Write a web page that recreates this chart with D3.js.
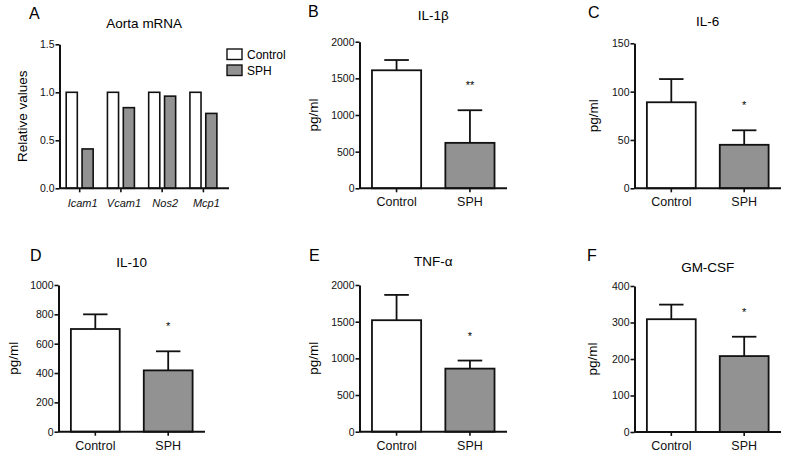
<!DOCTYPE html>
<html>
<head>
<meta charset="utf-8">
<script src="https://cdn.jsdelivr.net/npm/d3@7/dist/d3.min.js"></script>
<style>
  html, body { margin: 0; padding: 0; background: #fff; }
  svg { display: block; font-family: "Liberation Sans", Arial, Helvetica, sans-serif; }
</style>
</head>
<body>
<svg id="chart" width="786" height="453"></svg>
<script>
// ---------- Data ----------
const groups = ["Control", "SPH"];

// Panel A: aorta mRNA (relative values)
const mrnaGenes = ["Icam1", "Vcam1", "Nos2", "Mcp1"];
const mrnaControl = [1.0, 1.0, 1.0, 1.0];
const mrnaSPH = [0.41, 0.84, 0.96, 0.78];
const mrnaTicks = [0, 0.5, 1.0, 1.5];

// Panels B-F: serum cytokines (pg/ml)
const cytokines = ["IL-1β", "IL-6", "IL-10", "TNF-α", "GM-CSF"];
const panelLetters = ["B", "C", "D", "E", "F"];
const controlMeans = [1610, 89, 700, 1520, 309];
const controlErr = [140, 24, 100, 345, 40];
const sphMeans = [620, 45, 418, 860, 208];
const sphErr = [445, 15, 130, 110, 53];
const yMaxValues = [2000, 150, 1000, 2000, 400];
const yTickSteps = [500, 50, 200, 500, 100];
const significance = ["**", "*", "*", "*", "*"];

// ---------- Layout (positions only) ----------
const layoutA = { x0: 59.5, x1: 229, yTop: 44.3, yBot: 188.3, letterX: 29, letterY: 18.5, titleY: 27.5, ylabX: 22 };
const layouts = [
  { x0: 359.5, x1: 507, yTop: 41.7, yBot: 188.3, letterX: 308, letterY: 17, titleY: 20, ylabX: 313 },
  { x0: 634.5, x1: 781, yTop: 43.3, yBot: 188.3, letterX: 588, letterY: 17.5, titleY: 25.5, ylabX: 593 },
  { x0: 58.5, x1: 205, yTop: 285, yBot: 431.7, letterX: 30, letterY: 260.8, titleY: 267, ylabX: 13 },
  { x0: 359.5, x1: 507, yTop: 285, yBot: 431.7, letterX: 309, letterY: 260.8, titleY: 266, ylabX: 313 },
  { x0: 634.5, x1: 781, yTop: 286, yBot: 432, letterX: 587, letterY: 260.8, titleY: 272, ylabX: 592 }
];

const svg = d3.select("#chart");
const SPH_FILL = "#929292";
const STROKE = "#111";

function styleAxis(g) {
  g.selectAll("path.domain").attr("stroke", STROKE).attr("stroke-width", 2);
  g.selectAll(".tick line").attr("stroke", STROKE).attr("stroke-width", 1.6);
  g.selectAll(".tick text").attr("fill", "#111").attr("font-family", "Liberation Sans, Arial, sans-serif");
}

// ---------- Panel A ----------
(function () {
  const L = layoutA;
  const y = d3.scaleLinear().domain([0, 1.5]).range([L.yBot, L.yTop]);
  const x = d3.scaleBand().domain(mrnaGenes).range([L.x0, L.x1])
    .paddingInner(0.346).paddingOuter(0.228).align(0.356);
  const xi = d3.scaleBand().domain(groups).range([0, x.bandwidth()]).paddingInner(0.3).paddingOuter(0);

  const g = svg.append("g");
  const rows = mrnaGenes.map((gname, i) => ({ gene: gname, vals: [mrnaControl[i], mrnaSPH[i]] }));
  const gg = g.selectAll("g.grp").data(rows).join("g").attr("transform", d => `translate(${x(d.gene)},0)`);
  gg.selectAll("rect").data(d => d.vals.map((v, j) => ({ grp: groups[j], v }))).join("rect")
    .attr("x", d => xi(d.grp)).attr("width", xi.bandwidth())
    .attr("y", d => y(d.v)).attr("height", d => y(0) - y(d.v))
    .attr("fill", d => d.grp === "Control" ? "#fff" : SPH_FILL)
    .attr("stroke", STROKE).attr("stroke-width", 1.6);

  const ya = g.append("g").attr("transform", `translate(${L.x0},0)`)
    .call(d3.axisLeft(y).tickValues(mrnaTicks).tickFormat(d3.format(".1f")).tickSize(4).tickSizeOuter(0).tickPadding(1));
  ya.selectAll(".tick text").attr("font-size", 10.5);
  styleAxis(ya);
  const xa = g.append("g").attr("transform", `translate(0,${L.yBot})`)
    .call(d3.axisBottom(x).tickSize(4).tickSizeOuter(0).tickPadding(7));
  xa.select("path.domain").attr("d", `M${L.x0},0H${L.x1}`);
  xa.selectAll(".tick text").attr("font-size", 11).attr("font-style", "italic").attr("dx", 3);
  styleAxis(xa);

  g.append("text").attr("x", (L.x0 + L.x1) / 2).attr("y", L.titleY).attr("text-anchor", "middle")
    .attr("font-size", 13.5).text("Aorta mRNA");
  g.append("text").attr("x", L.letterX).attr("y", L.letterY).attr("font-size", 16).text("A");
  g.append("text").attr("transform", `translate(${L.ylabX},${(L.yTop + L.yBot) / 2}) rotate(-90)`)
    .attr("text-anchor", "middle").attr("dy", "0.35em").attr("font-size", 13.5).text("Relative values");

  // legend
  const lg = g.append("g").attr("transform", "translate(227,49)");
  groups.forEach((name, j) => {
    lg.append("rect").attr("x", 0).attr("y", j * 16).attr("width", 15).attr("height", 10.5)
      .attr("fill", j === 0 ? "#fff" : SPH_FILL).attr("stroke", STROKE).attr("stroke-width", 1.4);
    lg.append("text").attr("x", 20).attr("y", j * 16 + 5.5).attr("dy", "0.35em")
      .attr("font-size", 12).text(name);
  });
})();

// ---------- Panels B-F ----------
cytokines.forEach((name, i) => {
  const L = layouts[i];
  const y = d3.scaleLinear().domain([0, yMaxValues[i]]).range([L.yBot, L.yTop]);
  const x = d3.scaleBand().domain(groups).range([L.x0, L.x1])
    .paddingInner(0.33).paddingOuter(0.17).align(0.5);
  const means = [controlMeans[i], sphMeans[i]];
  const errs = [controlErr[i], sphErr[i]];
  const rows = groups.map((gname, j) => ({ grp: gname, m: means[j], e: errs[j] }));
  const g = svg.append("g");

  // error bars (upper only)
  const eb = g.selectAll("g.err").data(rows).join("g");
  eb.append("line")
    .attr("x1", d => x(d.grp) + x.bandwidth() / 2).attr("x2", d => x(d.grp) + x.bandwidth() / 2)
    .attr("y1", d => y(d.m)).attr("y2", d => y(d.m + d.e))
    .attr("stroke", STROKE).attr("stroke-width", 1.8);
  eb.append("line")
    .attr("x1", d => x(d.grp) + x.bandwidth() / 4).attr("x2", d => x(d.grp) + x.bandwidth() * 3 / 4)
    .attr("y1", d => y(d.m + d.e)).attr("y2", d => y(d.m + d.e))
    .attr("stroke", STROKE).attr("stroke-width", 1.8);

  g.selectAll("rect").data(rows).join("rect")
    .attr("x", d => x(d.grp)).attr("width", x.bandwidth())
    .attr("y", d => y(d.m)).attr("height", d => y(0) - y(d.m))
    .attr("fill", d => d.grp === "Control" ? "#fff" : SPH_FILL)
    .attr("stroke", STROKE).attr("stroke-width", 1.8);

  const ya = g.append("g").attr("transform", `translate(${L.x0},0)`)
    .call(d3.axisLeft(y).tickValues(d3.range(0, yMaxValues[i] + 1e-9, yTickSteps[i]))
      .tickFormat(d3.format("d")).tickSize(4).tickSizeOuter(0).tickPadding(1));
  ya.selectAll(".tick text").attr("font-size", 10.5);
  styleAxis(ya);
  const xa = g.append("g").attr("transform", `translate(0,${L.yBot})`)
    .call(d3.axisBottom(x).tickSize(4).tickSizeOuter(0).tickPadding(5));
  xa.select("path.domain").attr("d", `M${L.x0},0H${L.x1}`);
  xa.selectAll(".tick text").attr("font-size", 12.5);
  styleAxis(xa);

  // significance marker above SPH error bar
  const sph = rows[1];
  g.append("text").attr("x", x(sph.grp) + x.bandwidth() / 2).attr("y", y(sph.m + sph.e) - 21)
    .attr("text-anchor", "middle").attr("font-size", 11).text(significance[i]);

  g.append("text").attr("x", (L.x0 + L.x1) / 2).attr("y", L.titleY).attr("text-anchor", "middle")
    .attr("font-size", 13.5).text(name);
  g.append("text").attr("x", L.letterX).attr("y", L.letterY).attr("font-size", 16).text(panelLetters[i]);
  g.append("text").attr("transform", `translate(${L.ylabX},${(L.yTop + L.yBot) / 2}) rotate(-90)`)
    .attr("text-anchor", "middle").attr("dy", "0.35em").attr("font-size", 13.5).text("pg/ml");
});
</script>
</body>
</html>
